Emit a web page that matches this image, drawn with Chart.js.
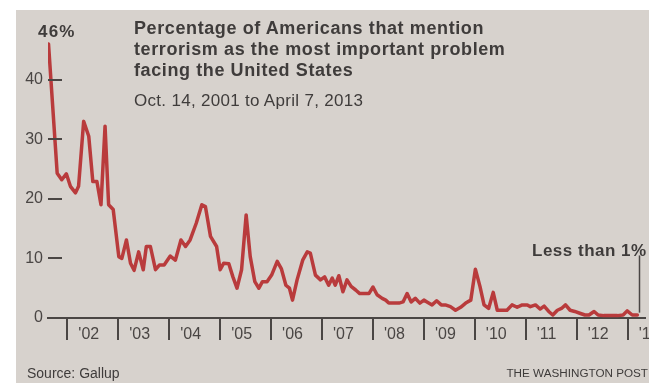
<!DOCTYPE html>
<html>
<head>
<meta charset="utf-8">
<script src="https://cdn.jsdelivr.net/npm/chart.js@4.4.1/dist/chart.umd.min.js"></script>
<style>
  html, body { margin: 0; padding: 0; background: #fff; }
  #page { position: relative; width: 649px; height: 387px; overflow: hidden; }
  #paper { position: absolute; left: 16px; top: 10px; width: 633px; height: 373px; background: #d7d2cd; }
  #chart { position: absolute; left: 0; top: 0; }
  .txt { position: absolute; color: #3f3c3b; font-family: 'Liberation Sans', Arial, sans-serif; white-space: nowrap; }
  #title { left: 134px; top: 18px; font-size: 18px; letter-spacing: 0.6px; font-weight: bold; line-height: 21px; }
  #sub { left: 134px; top: 91px; font-size: 17px; letter-spacing: 0.3px; line-height: 20px; }
  #peak { left: 38px; top: 22px; font-size: 17px; letter-spacing: 1.2px; font-weight: bold; line-height: 20px; }
  #low { left: 532px; top: 241px; font-size: 17px; letter-spacing: 0.5px; font-weight: bold; line-height: 20px; }
  #source { left: 27px; top: 365px; font-size: 14px; line-height: 16px; }
  #credit { right: 1px; top: 365px; font-size: 11.7px; line-height: 16px; }
</style>
</head>
<body>
<div id="page">
  <div id="paper"></div>
  <canvas id="chart" width="649" height="387"></canvas>
  <div class="txt" id="title">Percentage of Americans that mention<br>terrorism as the most important problem<br>facing the United States</div>
  <div class="txt" id="sub">Oct. 14, 2001 to April 7, 2013</div>
  <div class="txt" id="peak">46%</div>
  <div class="txt" id="low">Less than 1%</div>
  <div class="txt" id="source">Source: Gallup</div>
  <div class="txt" id="credit">THE WASHINGTON POST</div>
</div>
<script>
// survey dates as decimal years
const years = [
    2001.63, 2001.80, 2001.89, 2001.98, 2002.06, 2002.16, 2002.22, 2002.32, 2002.42, 2002.50,
    2002.58, 2002.66, 2002.74, 2002.81, 2002.90, 2003.01, 2003.07, 2003.16, 2003.24, 2003.31,
    2003.40, 2003.49, 2003.55, 2003.63, 2003.73, 2003.81, 2003.90, 2004.02, 2004.12, 2004.23,
    2004.32, 2004.41, 2004.53, 2004.64, 2004.71, 2004.81, 2004.93, 2005.00, 2005.07, 2005.17,
    2005.25, 2005.33, 2005.42, 2005.51, 2005.59, 2005.68, 2005.76, 2005.83, 2005.92, 2006.01,
    2006.12, 2006.20, 2006.29, 2006.36, 2006.42, 2006.51, 2006.62, 2006.71, 2006.77, 2006.87,
    2006.97, 2007.05, 2007.13, 2007.20, 2007.26, 2007.33, 2007.41, 2007.49, 2007.57, 2007.66,
    2007.74, 2007.83, 2007.92, 2008.00, 2008.08, 2008.18, 2008.25, 2008.31, 2008.41, 2008.51,
    2008.59, 2008.67, 2008.75, 2008.83, 2008.92, 2009.00, 2009.06, 2009.16, 2009.25, 2009.34,
    2009.42, 2009.52, 2009.62, 2009.72, 2009.82, 2009.92, 2010.01, 2010.10, 2010.18, 2010.27,
    2010.36, 2010.44, 2010.54, 2010.63, 2010.73, 2010.83, 2010.93, 2011.03, 2011.09, 2011.19,
    2011.28, 2011.36, 2011.45, 2011.53, 2011.62, 2011.70, 2011.78, 2011.87, 2011.96, 2012.06,
    2012.16, 2012.24, 2012.34, 2012.42, 2012.53, 2012.67, 2012.80, 2012.91, 2012.99, 2013.09,
    2013.19
];

// percent mentioning terrorism
const values = [
    46, 24.3, 23.2, 24.2, 22.1, 21.0, 22.1, 33.0, 30.5, 22.9,
    22.9, 19.0, 32.2, 19.0, 18.2, 10.3, 10.0, 13.1, 9.2, 8.0,
    11.1, 8.1, 12.0, 12.0, 8.1, 8.9, 8.9, 10.4, 9.7, 13.1,
    12.0, 13.1, 15.9, 19.0, 18.7, 13.7, 12.0, 8.1, 9.2, 9.1,
    6.9, 5.0, 8.1, 17.3, 10.3, 6.1, 5.0, 6.1, 6.1, 7.2,
    9.5, 8.3, 5.5, 5.0, 3.0, 6.4, 9.7, 11.1, 10.9, 7.2,
    6.4, 6.9, 5.5, 6.7, 5.5, 7.1, 4.4, 6.4, 5.3, 4.7,
    4.1, 4.1, 4.1, 5.2, 3.9, 3.3, 3.0, 2.5, 2.5, 2.5,
    2.7, 4.1, 2.7, 3.3, 2.5, 3.0, 2.7, 2.2, 2.9, 2.2,
    2.2, 1.9, 1.3, 1.8, 2.5, 3.0, 8.2, 5.3, 2.2, 1.6,
    4.3, 1.3, 1.3, 1.3, 2.2, 1.8, 2.2, 2.2, 1.9, 2.2,
    1.5, 2.0, 1.1, 0.5, 1.3, 1.6, 2.2, 1.3, 1.1, 0.8,
    0.5, 0.5, 1.1, 0.5, 0.4, 0.4, 0.4, 0.5, 1.2, 0.5,
    0.5
];

const yearTicks = [2002, 2003, 2004, 2005, 2006, 2007, 2008, 2009, 2010, 2011, 2012, 2013];
const yearLabels = ["'02", "'03", "'04", "'05", "'06", "'07", "'08", "'09", "'10", "'11", "'12", "'13"];
const yTicks = [0, 10, 20, 30, 40];
const leaderRange = [0.9, 10.5]; // vertical pointer under "Less than 1%"

const ink = '#4a4644';

// short dashes inside the plot at each y tick, plus the pointer line
const markers = {
    id: 'markers',
    afterDatasetsDraw(chart) {
        const { ctx, chartArea, scales } = chart;
        ctx.save();
        ctx.strokeStyle = ink;
        ctx.lineWidth = 2;
        scales.y.ticks.forEach(t => {
            if (t.value === 0) return;
            const y = Math.round(scales.y.getPixelForValue(t.value));
            ctx.beginPath();
            ctx.moveTo(chartArea.left, y);
            ctx.lineTo(chartArea.left + 14, y);
            ctx.stroke();
        });
        const lx = Math.round(scales.x.getPixelForValue(years[years.length - 1])) + 2.5;
        ctx.lineWidth = 1.5;
        ctx.beginPath();
        ctx.moveTo(lx, scales.y.getPixelForValue(leaderRange[0]));
        ctx.lineTo(lx, scales.y.getPixelForValue(leaderRange[1]));
        ctx.stroke();
        ctx.restore();
    }
};

new Chart(document.getElementById('chart'), {
    type: 'line',
    data: {
        datasets: [{
            data: years.map((x, i) => ({ x, y: values[i] })),
            borderColor: '#b93b3c',
            borderWidth: 3.5,
            borderJoinStyle: 'round',
            borderCapStyle: 'round',
            pointRadius: 0,
            tension: 0,
            fill: false
        }]
    },
    options: {
        responsive: false,
        animation: false,
        layout: { padding: { top: 32, right: 4, bottom: 29, left: 0 } },
        plugins: { legend: { display: false }, tooltip: { enabled: false } },
        scales: {
            x: {
                type: 'linear',
                min: 2001.62,
                max: 2013.34,
                afterBuildTicks: s => { s.ticks = yearTicks.map(v => ({ value: v })); },
                afterFit: s => { s.height = 40; },
                border: { display: true, color: ink, width: 2 },
                grid: { drawOnChartArea: false, drawTicks: true, tickLength: 22, color: ink, lineWidth: 2 },
                ticks: {
                    autoSkip: false,
                    maxRotation: 0,
                    align: 'start',
                    labelOffset: 11,
                    padding: -15,
                    color: ink,
                    font: { family: 'Liberation Sans', size: 16 },
                    callback: (v, i) => yearLabels[i]
                }
            },
            y: {
                min: 0,
                max: 48,
                afterBuildTicks: s => { s.ticks = yTicks.map(v => ({ value: v })); },
                afterFit: s => { s.width = 48; },
                border: { display: false },
                grid: { display: false, drawTicks: false },
                ticks: {
                    padding: 5,
                    color: ink,
                    font: { family: 'Liberation Sans', size: 16 }
                }
            }
        }
    },
    plugins: [markers]
});
</script>
</body>
</html>
